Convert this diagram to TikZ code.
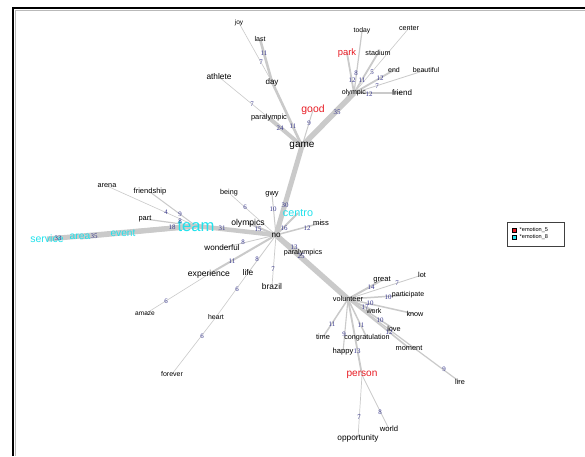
\documentclass[tikz,border=0pt]{standalone}
\usepackage{fontspec}
\setmainfont{Liberation Sans}
\newfontfamily\numfont{Liberation Serif}

\pgfdeclarelayer{edgelayer}
\pgfsetlayers{edgelayer,main}

\definecolor{edgegray}{RGB}{202,202,202}
\definecolor{numblue}{RGB}{55,55,140}
\definecolor{emored}{RGB}{232,28,36}
\definecolor{emocyan}{RGB}{32,226,236}

\tikzset{
  word/.style={inner sep=0pt, text=black, font=\fontsize{#1}{#1}\selectfont},
  redword/.style={inner sep=0pt, text=emored, font=\fontsize{#1}{#1}\selectfont},
  cyanword/.style={inner sep=0pt, text=emocyan, font=\fontsize{#1}{#1}\selectfont},
  num/.style={inner sep=0pt, text=numblue, font=\numfont\fontsize{6.9}{6.9}\selectfont},
  link/.style={draw=edgegray, line width=#1},
  legendtext/.style={inner sep=0pt, anchor=west, font=\fontsize{5.6}{5.6}\selectfont},
}

\begin{document}
\begin{tikzpicture}[x=1pt,y=-1pt]
\useasboundingbox (0,0) rectangle (585,456);

% ---------- words ----------
% game cluster
\node[word=6.5] (joy) at (239,23) {joy};
\node[word=7] (last) at (260,39) {last};
\node[word=8] (day) at (272,82) {day};
\node[word=8.3] (athlete) at (219,77) {athlete};
\node[word=7.4] (paralympic) at (269,118) {paralympic};
\node[redword=10.4] (good) at (313,110) {good};
\node[word=10] (game) at (302,146) {game};
\node[word=7.1] (olympic) at (354,93) {olympic};
\node[word=8] (friend) at (402,93) {friend};
\node[redword=9.4] (park) at (347,53) {park};
\node[word=6.8] (today) at (362,31) {today};
\node[word=7.2] (stadium) at (378,53) {stadium};
\node[word=7.2] (center) at (409,28) {center};
\node[word=7] (end) at (394,70) {end};
\node[word=7] (beautiful) at (426,70) {beautiful};

% no cluster
\node[word=8.1] (no) at (276,235) {no};
\node[word=7.5] (gwy) at (272,194) {gwy};
\node[word=7.2] (being) at (229,193) {being};
\node[word=8.6] (olympics) at (248,223) {olympics};
\node[cyanword=10.8] (centro) at (298,213) {centro};
\node[word=7.6] (miss) at (321,223) {miss};
\node[word=8.1] (wonderful) at (222,248) {wonderful};
\node[word=7.2] (paralympics) at (303,253) {paralympics};
\node[word=8.6] (experience) at (209,274) {experience};
\node[word=8.3] (life) at (248,273) {life};
\node[word=8.4] (brazil) at (272,286) {brazil};
\node[word=6.6] (amaze) at (145,314) {amaze};
\node[word=6.9] (heart) at (216,317) {heart};
\node[word=7] (forever) at (172,374) {forever};

% team cluster
\node[cyanword=16.6] (team) at (196,226) {team};
\node[word=7.3] (arena) at (107,186) {arena};
\node[word=7.5] (friendship) at (150,192) {friendship};
\node[word=7.4] (part) at (145,219) {part};
\node[cyanword=10.5] (service) at (47,239) {service};
\node[cyanword=10.3] (area) at (80,237) {area};
\node[cyanword=10.2] (event) at (123,233) {event};

% volunteer cluster
\node[word=7.3] (volunteer) at (348,299) {volunteer};
\node[word=7.6] (great) at (382,280) {great};
\node[word=7.3] (lot) at (422,275) {lot};
\node[word=7] (participate) at (408,295) {participate};
\node[word=7.1] (work) at (374,311) {work};
\node[word=7.2] (know) at (415,314) {know};
\node[word=7.3] (love) at (394,329) {love};
\node[word=7.4] (moment) at (409,348) {moment};
\node[word=7.3] (lire) at (460,382) {lire};
\node[word=7.4] (time) at (323,337) {time};
\node[word=7.2] (congratulation) at (367,338) {congratulation};
\node[word=7.6] (happy) at (343,352) {happy};
\node[redword=10.1] (person) at (362,375) {person};
\node[word=8.3] (opportunity) at (358,438) {opportunity};
\node[word=7.7] (world) at (389,429) {world};

% ---------- edge weights ----------
\node[num] (w-last) at (264,53) {11};
\node[num] (w-joy) at (261,62) {7};
\node[num] (w-athlete) at (252,104) {7};
\node[num] (w-paralympic) at (280,128) {24};
\node[num] (w-day) at (293,126) {11};
\node[num] (w-good) at (309,123) {9};
\node[num] (w-olympic) at (337,112) {35};
\node[num] (w-friend) at (369,94) {12};
\node[num] (w-today) at (356,73) {8};
\node[num] (w-park) at (352,80) {12};
\node[num] (w-stadium) at (362,80) {11};
\node[num] (w-center) at (372,72) {5};
\node[num] (w-end) at (380,78) {12};
\node[num] (w-beautiful) at (377,86) {7};

\node[num] (w-no) at (285,205) {30};
\node[num] (w-centro) at (284,228) {16};
\node[num] (w-gwy) at (273,209) {10};
\node[num] (w-being) at (245,207) {6};
\node[num] (w-olympics) at (258,229) {15};
\node[num] (w-team) at (222,228) {31};
\node[num] (w-miss) at (307,228) {12};
\node[num] (w-wonderful) at (243,242) {8};
\node[num] (w-paralympics) at (294,247) {13};
\node[num] (w-volunteer) at (301,256) {25};
\node[num] (w-experience) at (232,261) {11};
\node[num] (w-life) at (257,259) {8};
\node[num] (w-brazil) at (273,269) {7};
\node[num] (w-amaze) at (166,301) {6};
\node[num] (w-heart) at (237,289) {6};
\node[num] (w-forever) at (202,336) {6};

\node[num] (w-arena) at (166,212) {4};
\node[num] (w-friendship) at (180,214) {9};
\node[num] (w-part) at (180,221) {8};
\node[num] (w-event) at (172,227) {18};
\node[num] (w-service) at (58,238) {33};
\node[num] (w-area) at (94,236) {35};

\node[num] (w-great) at (371,287) {14};
\node[num] (w-lot) at (397,283) {7};
\node[num] (w-participate) at (388,297) {10};
\node[num] (w-work) at (365,307) {17};
\node[num] (w-know) at (370,303) {10};
\node[num] (w-love) at (380,320) {10};
\node[num] (w-moment) at (389,332) {12};
\node[num] (w-lire) at (444,369) {9};
\node[num] (w-time) at (332,324) {11};
\node[num] (w-congratulation) at (361,325) {11};
\node[num] (w-happy) at (344,334) {9};
\node[num] (w-person) at (357,351) {13};
\node[num] (w-opportunity) at (359,417) {7};
\node[num] (w-world) at (380,412) {8};

% ---------- edges, under the words ----------
\begin{pgfonlayer}{edgelayer}
  \fill[white] (0,0) rectangle (585,456);
  % game
  \draw[link=5.5] (game.center) -- (olympic.center);
  \draw[link=5] (game.center) -- (no.center);
  \draw[link=4] (game.center) -- (paralympic.center);
  \draw[link=2.6] (game.center) -- (day.center);
  \draw[link=1] (game.center) -- (good.center);
  \draw[link=2.6] (day.center) -- (last.center);
  \draw[link=0.6] (day.center) -- (joy.center);
  \draw[link=0.6] (paralympic.center) -- (athlete.center);
  \draw[link=2.6] (olympic.center) -- (friend.center);
  \draw[link=1.8] (olympic.center) -- (park.center);
  \draw[link=1.2] (olympic.center) -- (today.center);
  \draw[link=1.8] (olympic.center) -- (stadium.center);
  \draw[link=0.6] (olympic.center) -- (center.center);
  \draw[link=1.8] (olympic.center) -- (end.center);
  \draw[link=0.8] (olympic.center) -- (beautiful.center);
  % no
  \draw[link=5.5] (no.center) -- (volunteer.center);
  \draw[link=4.5] (no.center) -- (team.center);
  \draw[link=2] (no.center) -- (olympics.center);
  \draw[link=2] (no.center) -- (centro.center);
  \draw[link=1] (no.center) -- (gwy.center);
  \draw[link=0.6] (no.center) -- (being.center);
  \draw[link=1.5] (no.center) -- (miss.center);
  \draw[link=0.8] (no.center) -- (wonderful.center);
  \draw[link=1.5] (no.center) -- (paralympics.center);
  \draw[link=2] (no.center) -- (experience.center);
  \draw[link=0.8] (no.center) -- (life.center);
  \draw[link=0.7] (no.center) -- (brazil.center);
  \draw[link=0.6] (experience.center) -- (amaze.center);
  \draw[link=0.6] (life.center) -- (heart.center);
  \draw[link=0.6] (heart.center) -- (forever.center);
  % team
  \draw[link=5] (team.center) -- (service.center);
  \draw[link=5] (team.center) -- (area.center);
  \draw[link=2] (team.center) -- (event.center);
  \draw[link=0.6] (team.center) -- (arena.center);
  \draw[link=1] (team.center) -- (friendship.center);
  \draw[link=1.2] (team.center) -- (part.center);
  % volunteer
  \draw[link=2] (volunteer.center) -- (great.center);
  \draw[link=0.8] (volunteer.center) -- (lot.center);
  \draw[link=1.5] (volunteer.center) -- (participate.center);
  \draw[link=2] (volunteer.center) -- (work.center);
  \draw[link=1.5] (volunteer.center) -- (know.center);
  \draw[link=1.5] (volunteer.center) -- (love.center);
  \draw[link=1.6] (volunteer.center) -- (moment.center);
  \draw[link=1.2] (volunteer.center) -- (lire.center);
  \draw[link=1.5] (volunteer.center) -- (time.center);
  \draw[link=1.5] (volunteer.center) -- (congratulation.center);
  \draw[link=1.1] (volunteer.center) -- (happy.center);
  \draw[link=1.8] (volunteer.center) -- (person.center);
  \draw[link=0.7] (person.center) -- (opportunity.center);
  \draw[link=0.8] (person.center) -- (world.center);
\end{pgfonlayer}

% frame
\draw[gray!55, line width=1.2pt] (15.2,456) -- (15.2,10.2) -- (585,10.2);
\draw[black, line width=1.3pt] (13,456) -- (13,8) -- (585,8);

% ---------- legend ----------
\draw[black!75, line width=0.5pt] (507,222) rectangle (564,246);
\node[draw=black, fill=emored, line width=0.3pt, minimum size=4pt, inner sep=0pt] (key5) at (514,230) {};
\node[draw=black, fill=emocyan, line width=0.3pt, minimum size=4pt, inner sep=0pt] (key8) at (514,237) {};
\node[legendtext] (lab5) at (519.5,230) {*emotion\_5};
\node[legendtext] (lab8) at (519.5,237) {*emotion\_8};
\end{tikzpicture}
\end{document}
